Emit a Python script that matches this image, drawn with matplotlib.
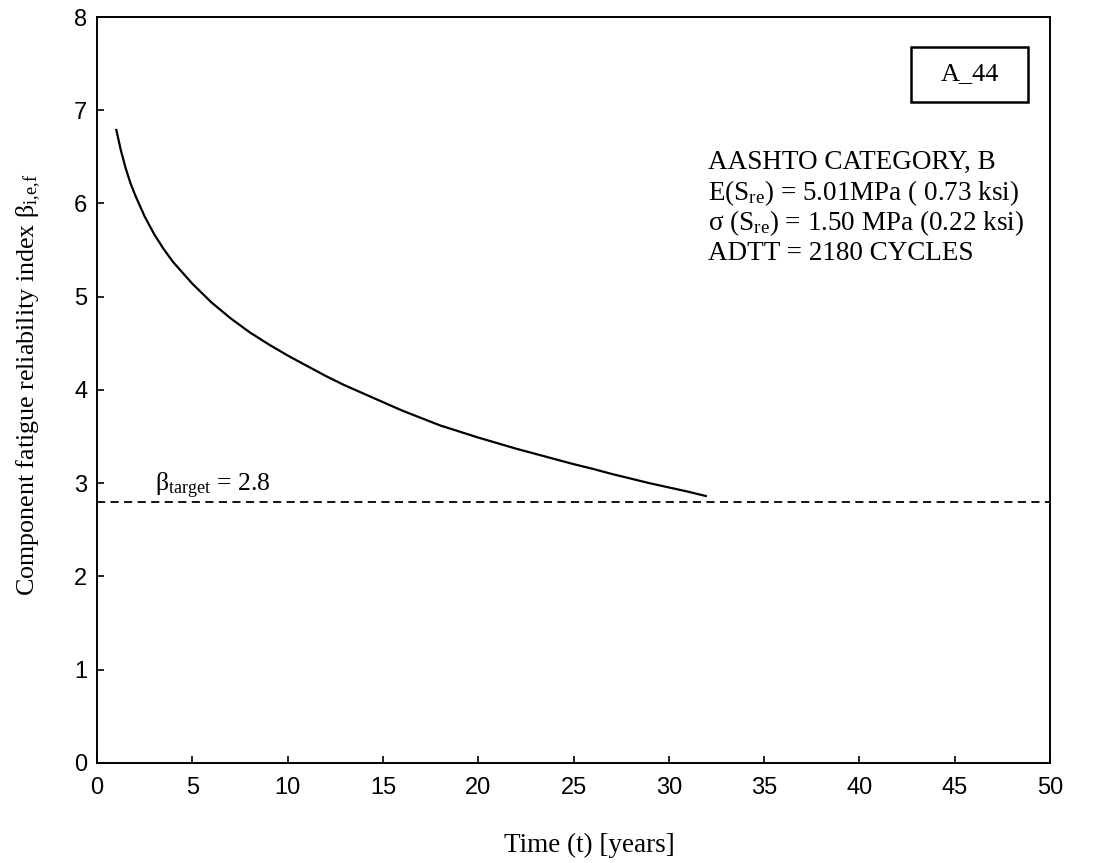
import matplotlib
matplotlib.use("Agg")
import matplotlib.pyplot as plt
from matplotlib.patches import Rectangle

# Component fatigue reliability index over the service life
years = [1, 1.25, 1.5, 1.75, 2, 2.5, 3, 3.5, 4, 5, 6, 7, 8, 9, 10, 11, 12,
         13, 14, 15, 16, 17, 18, 19, 20, 21, 22, 23, 24, 25, 26, 27, 28,
         29, 30, 31, 32]
beta = [6.80, 6.57, 6.38, 6.22, 6.09, 5.86, 5.67, 5.51, 5.37, 5.14, 4.94,
        4.77, 4.62, 4.49, 4.37, 4.26, 4.15, 4.05, 3.96, 3.87, 3.78, 3.70,
        3.62, 3.555, 3.49, 3.43, 3.37, 3.315, 3.26, 3.205, 3.155, 3.10,
        3.05, 3.00, 2.955, 2.91, 2.86]
beta_target = 2.8
x_ticks = [0, 5, 10, 15, 20, 25, 30, 35, 40, 45, 50]
y_ticks = [0, 1, 2, 3, 4, 5, 6, 7, 8]

plt.rcParams["mathtext.fontset"] = "custom"
plt.rcParams["mathtext.rm"] = "Liberation Serif"
plt.rcParams["mathtext.it"] = "Liberation Serif:italic"

serif = "Liberation Serif"
sans = "Liberation Sans"

fig = plt.figure(figsize=(11.09, 8.63), dpi=100)
ax = fig.add_axes([0.0875, 0.1159, 0.8593, 0.8644])

ax.plot(years, beta, color="black", lw=1.6, solid_capstyle="butt",
        solid_joinstyle="round")
ax.axhline(beta_target, color="black", lw=1.3, ls=(0, (4.5, 3)))

ax.set_xlim(0, 50)
ax.set_ylim(0, 8)
ax.set_xticks(x_ticks)
ax.set_yticks(y_ticks)
ax.tick_params(direction="in", length=5, width=1.2, labelsize=17,
               top=False, right=False)
ax.tick_params(axis="x", pad=10)
ax.tick_params(axis="y", pad=7)
for lab in ax.get_xticklabels() + ax.get_yticklabels():
    lab.set_fontfamily(sans)
for sp in ax.spines.values():
    sp.set_linewidth(1.4)

ax.set_xlabel("Time (t) [years]", family=serif, fontsize=19.5)
ax.xaxis.set_label_coords(0.517, -0.094)
ax.set_ylabel(r"Component fatigue reliability index $\mathrm{\beta_{i{,}e{,}f}}$",
              family=serif, fontsize=18.7)
ax.yaxis.set_label_coords(-0.0567, 0.507)

ax.text(3.04, 2.91, r"$\mathrm{\beta_{target}}$ = 2.8", family=serif,
        fontsize=18.5, ha="left", va="baseline")

# Section identifier in a framed box
ax.add_patch(Rectangle((0.854, 0.886), 0.123, 0.074, transform=ax.transAxes,
                       fill=False, ec="black", lw=1.8))
ax.text(0.9155, 0.9236, "A_44", transform=ax.transAxes, family=serif,
        fontsize=19, ha="center", va="center")

info_lines = ["AASHTO CATEGORY, B",
              r"E(S$\mathrm{_{re}}$) = 5.01MPa ( 0.73 ksi)",
              r"σ (S$\mathrm{_{re}}$) = 1.50 MPa (0.22 ksi)",
              "ADTT = 2180 CYCLES"]
baselines = [0.7962, 0.7547, 0.7145, 0.6743]
for line, yb in zip(info_lines, baselines):
    ax.text(0.641, yb, line, transform=ax.transAxes, family=serif,
            fontsize=19.5, ha="left", va="baseline")

fig.savefig("out.png", dpi=100)
